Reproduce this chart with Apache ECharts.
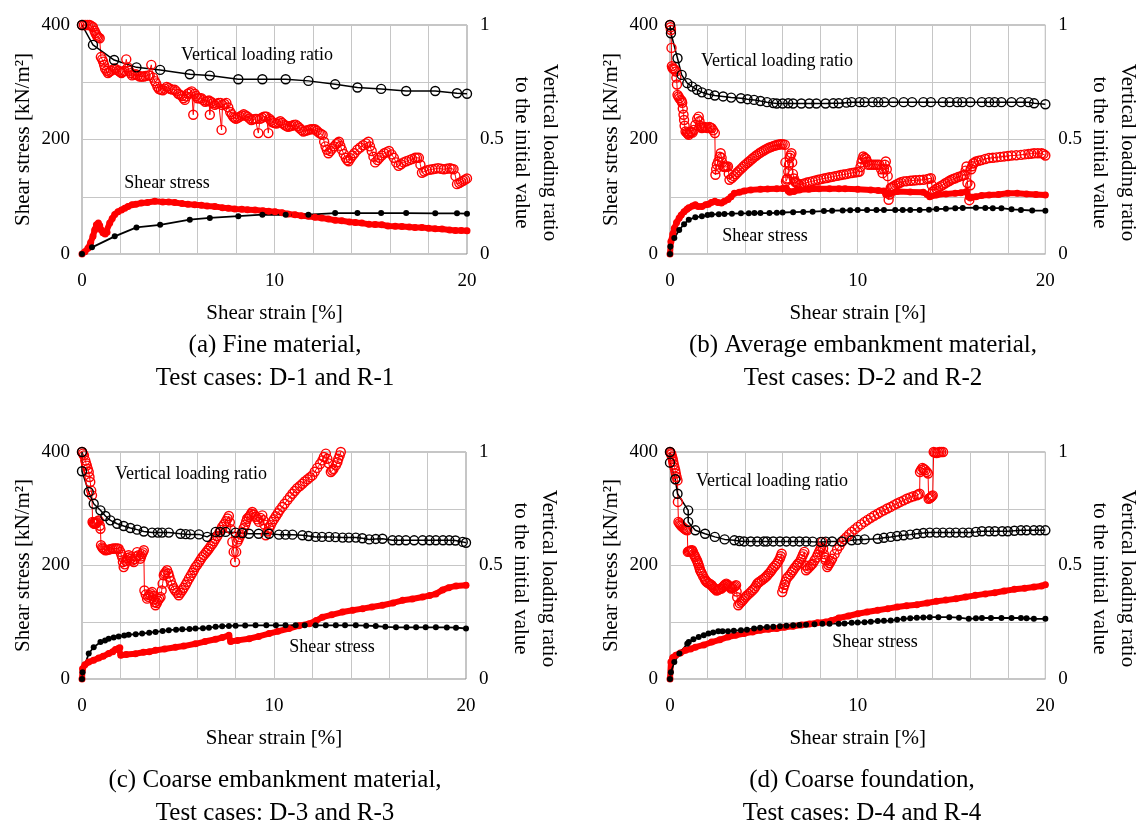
<!DOCTYPE html>
<html>
<head>
    <meta charset="utf-8">
    <title>Shear stress and vertical loading ratio</title>
    <script src="https://cdn.jsdelivr.net/npm/echarts@6.0.0/dist/echarts.min.js"></script>
    <style>
        html, body { margin: 0; padding: 0; background: #fff; }
        #chart { width: 1143px; height: 826px; }
    </style>
</head>
<body>
    <div id="chart"></div>
    <script type="text/javascript">
        // values: [shear strain %, value]
        // black = D cases, red = R cases; ratio on right axis (0-1), stress on left axis (kN/m2)

        // (a) D-1 / R-1
        var blackRatioA = [[0,1.0],[0.57,0.913],[1.67,0.847],[2.83,0.815],[4.06,0.804],[5.6,0.785],[6.64,0.779],[8.12,0.763],[9.37,0.763],[10.58,0.763],[11.76,0.756],[13.15,0.741],[14.31,0.727],[15.54,0.721],[16.84,0.712],[18.35,0.712],[19.48,0.702],[20,0.70]];
        var blackStressA = [[0,0],[0.52,11.6],[1.7,30.8],[2.83,46.5],[4.06,51],[5.6,60],[6.64,63],[8.12,66],[9.37,68.6],[10.58,68.6],[11.76,68.6],[13.15,71.5],[14.31,71.5],[15.54,71.5],[16.84,71.5],[18.35,71],[19.48,71],[20,70.5]];
        var redRatioA = [[0,1.0],[0.1,1.0],[0.2,1.0],[0.3,1.0],[0.4,1.0],[0.5,0.995],[0.57,0.99],[0.65,0.975],[0.7,0.965],[0.75,0.957],[0.8,0.95],[0.86,0.945],[0.92,0.942],[0.98,0.86],[1.05,0.85],[1.1,0.84],[1.15,0.825],[1.2,0.81],[1.28,0.8],[1.35,0.79],[1.42,0.795],[1.5,0.8],[1.6,0.805],[1.7,0.81],[1.8,0.805],[1.9,0.8],[1.97,0.795],[2.05,0.79],[2.12,0.795],[2.2,0.8],[2.3,0.85],[2.38,0.815],[2.45,0.8],[2.52,0.79],[2.6,0.78],[2.7,0.783],[2.8,0.785],[2.9,0.78],[3.0,0.775],[3.1,0.775],[3.2,0.775],[3.3,0.777],[3.45,0.78],[3.52,0.78],[3.6,0.826],[3.7,0.77],[3.78,0.755],[3.85,0.745],[3.92,0.73],[4.0,0.72],[4.1,0.717],[4.2,0.715],[4.3,0.722],[4.4,0.73],[4.5,0.725],[4.6,0.72],[4.7,0.718],[4.82,0.717],[4.9,0.71],[5.0,0.7],[5.1,0.695],[5.2,0.69],[5.27,0.68],[5.34,0.673],[5.42,0.688],[5.5,0.7],[5.6,0.705],[5.7,0.71],[5.78,0.608],[5.85,0.7],[5.92,0.69],[6.0,0.68],[6.1,0.68],[6.2,0.68],[6.3,0.672],[6.4,0.665],[6.5,0.668],[6.6,0.67],[6.64,0.608],[6.7,0.665],[6.8,0.658],[6.9,0.651],[7.0,0.656],[7.1,0.66],[7.2,0.66],[7.25,0.542],[7.3,0.65],[7.4,0.655],[7.5,0.66],[7.6,0.64],[7.7,0.62],[7.78,0.61],[7.85,0.6],[7.92,0.595],[8.0,0.59],[8.1,0.595],[8.2,0.6],[8.3,0.605],[8.4,0.61],[8.5,0.605],[8.6,0.6],[8.7,0.592],[8.8,0.585],[8.9,0.588],[9.0,0.59],[9.08,0.59],[9.16,0.528],[9.25,0.59],[9.35,0.595],[9.45,0.6],[9.52,0.6],[9.59,0.6],[9.68,0.528],[9.75,0.59],[9.82,0.582],[9.9,0.575],[10.0,0.572],[10.1,0.57],[10.2,0.575],[10.3,0.58],[10.4,0.572],[10.5,0.565],[10.6,0.56],[10.7,0.555],[10.8,0.558],[10.9,0.56],[11.0,0.563],[11.1,0.565],[11.2,0.558],[11.3,0.55],[11.4,0.542],[11.5,0.535],[11.6,0.538],[11.7,0.54],[11.8,0.543],[11.9,0.545],[12.0,0.545],[12.1,0.545],[12.2,0.538],[12.3,0.53],[12.4,0.525],[12.5,0.52],[12.58,0.49],[12.65,0.47],[12.72,0.455],[12.8,0.44],[12.9,0.45],[13.0,0.46],[13.1,0.47],[13.2,0.48],[13.28,0.485],[13.35,0.49],[13.42,0.472],[13.5,0.455],[13.6,0.437],[13.7,0.42],[13.78,0.41],[13.85,0.405],[13.95,0.418],[14.05,0.43],[14.15,0.44],[14.3,0.455],[14.45,0.465],[14.6,0.475],[14.75,0.483],[14.88,0.49],[14.96,0.47],[15.05,0.45],[15.14,0.425],[15.23,0.40],[15.35,0.41],[15.45,0.42],[15.57,0.43],[15.7,0.44],[15.82,0.445],[15.95,0.45],[16.08,0.435],[16.2,0.42],[16.32,0.4],[16.44,0.385],[16.57,0.392],[16.7,0.4],[16.85,0.405],[17.0,0.41],[17.15,0.415],[17.3,0.42],[17.4,0.42],[17.5,0.42],[17.58,0.39],[17.66,0.355],[17.78,0.36],[17.9,0.365],[18.05,0.368],[18.2,0.37],[18.35,0.372],[18.5,0.375],[18.65,0.372],[18.8,0.37],[18.95,0.372],[19.1,0.375],[19.2,0.372],[19.3,0.37],[19.4,0.34],[19.48,0.305],[19.6,0.31],[19.7,0.315],[19.8,0.32],[19.9,0.325],[20,0.33]];
        var redStressA = [[0,0],[0.15,4],[0.31,10],[0.45,20],[0.57,31],[0.66,42],[0.75,51],[0.85,54],[0.92,50],[1.0,42],[1.09,37],[1.2,35],[1.3,38],[1.44,54],[1.57,62],[1.7,69],[1.87,74],[2.05,77],[2.22,80],[2.39,83],[2.6,86],[2.8,87],[3.09,89],[3.4,90],[3.78,92],[4.2,91],[4.5,91],[4.82,90],[5.2,88],[5.5,87],[5.86,86],[6.2,85],[6.5,84],[6.9,83],[7.3,81],[7.6,80],[7.94,78.5],[8.3,78],[8.6,77.5],[8.99,77],[9.4,75.5],[9.7,74.5],[10.03,74],[10.4,72],[10.7,70],[11.07,68.6],[11.4,67],[11.76,66],[12.1,64],[12.45,63],[12.8,61],[13.15,59],[13.5,58],[13.9,56],[14.2,55],[14.54,54],[14.9,52],[15.23,51.5],[15.58,51],[15.9,49],[16.27,48.5],[16.62,48],[17,47],[17.3,46.5],[17.66,46.5],[18,45],[18.35,44],[18.7,43.6],[19.1,42],[19.4,41],[19.7,41],[20,40.5]];

        // (b) D-2 / R-2
        var blackRatioB = [[0,1.0],[0.05,0.964],[0.4,0.855],[0.62,0.782],[0.92,0.746],[1.18,0.731],[1.44,0.717],[1.7,0.706],[2.05,0.698],[2.39,0.692],[2.83,0.688],[3.26,0.683],[3.78,0.68],[4.13,0.676],[4.48,0.673],[4.82,0.668],[5.17,0.663],[5.5,0.659],[5.69,0.657],[6.0,0.657],[6.3,0.658],[6.56,0.657],[7.0,0.657],[7.42,0.657],[7.8,0.657],[8.29,0.657],[8.7,0.658],[8.99,0.658],[9.4,0.661],[9.68,0.663],[10.1,0.663],[10.37,0.663],[10.8,0.663],[11.1,0.663],[11.41,0.663],[11.9,0.663],[12.45,0.663],[12.9,0.663],[13.5,0.663],[13.9,0.663],[14.54,0.663],[14.9,0.663],[15.3,0.663],[15.58,0.663],[16.0,0.663],[16.62,0.663],[17.0,0.663],[17.3,0.663],[17.66,0.663],[18.2,0.663],[18.7,0.663],[19.1,0.663],[19.4,0.658],[20,0.654]];
        var blackStressB = [[0,0],[0.02,13],[0.23,28],[0.49,42],[0.75,52],[1.0,60],[1.35,64],[1.7,66],[2.0,68],[2.22,69],[2.6,69.5],[2.9,70],[3.3,70.5],[3.78,71],[4.2,71],[4.5,71.5],[4.82,71.5],[5.3,71.5],[5.69,72],[6.0,72.5],[6.56,73],[7.1,73.5],[7.6,74],[8.2,75],[8.64,75.6],[9.2,76],[9.6,76.5],[10.0,76.7],[10.5,76.7],[11.0,76.7],[11.4,76.7],[12.0,76.7],[12.4,76.7],[12.8,77],[13.3,77],[13.8,77.5],[14.2,78.5],[14.7,79],[15.2,80],[15.6,80.5],[16.3,81],[16.8,80.5],[17.2,80],[17.66,80],[18.2,78],[18.7,77],[19.3,76],[20,75.6]];
        var redRatioB = [[0,1.0],[0.03,0.99],[0.05,0.978],[0.08,0.9],[0.1,0.82],[0.14,0.811],[0.2,0.808],[0.25,0.805],[0.31,0.797],[0.34,0.77],[0.37,0.74],[0.4,0.695],[0.45,0.688],[0.5,0.68],[0.57,0.673],[0.62,0.668],[0.65,0.66],[0.68,0.635],[0.72,0.608],[0.75,0.585],[0.78,0.56],[0.83,0.535],[0.9,0.53],[0.95,0.525],[1.0,0.52],[1.05,0.528],[1.1,0.535],[1.15,0.532],[1.2,0.53],[1.27,0.542],[1.35,0.564],[1.45,0.59],[1.53,0.60],[1.57,0.58],[1.6,0.56],[1.65,0.553],[1.7,0.55],[1.78,0.553],[1.85,0.555],[1.92,0.552],[2.0,0.55],[2.1,0.555],[2.16,0.552],[2.22,0.549],[2.3,0.54],[2.39,0.528],[2.42,0.346],[2.46,0.37],[2.5,0.39],[2.57,0.404],[2.65,0.425],[2.7,0.44],[2.75,0.42],[2.78,0.40],[2.83,0.382],[2.9,0.381],[2.95,0.38],[3.02,0.381],[3.09,0.382],[3.13,0.35],[3.17,0.324],[3.3,0.332],[3.4,0.34],[3.5,0.348],[3.6,0.357],[3.7,0.365],[3.8,0.373],[3.9,0.381],[4.0,0.389],[4.1,0.396],[4.2,0.403],[4.3,0.41],[4.4,0.417],[4.5,0.424],[4.6,0.43],[4.7,0.436],[4.8,0.442],[4.9,0.447],[5.0,0.452],[5.1,0.457],[5.2,0.461],[5.3,0.465],[5.4,0.468],[5.5,0.471],[5.6,0.474],[5.7,0.476],[5.8,0.478],[5.9,0.479],[6.0,0.479],[6.12,0.477],[6.15,0.4],[6.18,0.317],[6.22,0.325],[6.25,0.33],[6.3,0.36],[6.34,0.39],[6.38,0.42],[6.42,0.43],[6.47,0.44],[6.51,0.4],[6.55,0.35],[6.6,0.33],[6.64,0.317],[6.7,0.313],[6.75,0.31],[6.82,0.306],[6.9,0.302],[7.0,0.305],[7.15,0.308],[7.3,0.312],[7.45,0.315],[7.6,0.318],[7.75,0.321],[7.9,0.324],[8.05,0.327],[8.2,0.33],[8.35,0.332],[8.5,0.335],[8.65,0.337],[8.8,0.34],[8.95,0.342],[9.1,0.345],[9.25,0.347],[9.4,0.349],[9.55,0.352],[9.7,0.354],[9.85,0.356],[10.0,0.358],[10.1,0.36],[10.15,0.38],[10.2,0.4],[10.25,0.413],[10.3,0.426],[10.38,0.42],[10.45,0.415],[10.5,0.403],[10.55,0.39],[10.65,0.39],[10.75,0.39],[10.85,0.39],[10.95,0.39],[11.05,0.39],[11.15,0.39],[11.25,0.37],[11.33,0.353],[11.4,0.37],[11.45,0.39],[11.5,0.404],[11.55,0.37],[11.6,0.34],[11.65,0.237],[11.7,0.26],[11.76,0.288],[11.83,0.292],[11.9,0.295],[12.0,0.3],[12.1,0.305],[12.2,0.309],[12.3,0.313],[12.45,0.317],[12.6,0.318],[12.8,0.32],[12.95,0.321],[13.1,0.322],[13.3,0.323],[13.5,0.324],[13.7,0.327],[13.8,0.329],[13.9,0.331],[13.95,0.3],[14.0,0.273],[14.1,0.279],[14.2,0.285],[14.3,0.29],[14.42,0.296],[14.54,0.302],[14.67,0.309],[14.8,0.315],[14.9,0.32],[15.0,0.325],[15.1,0.328],[15.2,0.331],[15.35,0.336],[15.5,0.34],[15.6,0.343],[15.7,0.346],[15.75,0.364],[15.8,0.382],[15.85,0.31],[15.95,0.235],[16.0,0.3],[16.05,0.37],[16.1,0.383],[16.15,0.395],[16.2,0.398],[16.3,0.404],[16.45,0.407],[16.6,0.41],[16.8,0.415],[17.0,0.419],[17.2,0.42],[17.4,0.422],[17.6,0.424],[17.8,0.426],[18.0,0.428],[18.2,0.43],[18.45,0.431],[18.7,0.433],[18.9,0.435],[19.1,0.437],[19.25,0.438],[19.4,0.44],[19.6,0.44],[19.8,0.44],[19.9,0.437],[20,0.43]];
        var redStressB = [[0,0],[0.05,22],[0.15,35],[0.23,45],[0.35,55],[0.49,63],[0.6,68],[0.75,74],[0.9,78],[1.0,81],[1.2,84],[1.35,86],[1.5,83],[1.7,83],[1.9,86],[2.05,87],[2.2,90],[2.39,92],[2.55,90],[2.74,89],[2.9,92],[3.09,95],[3.25,100],[3.43,106],[3.7,108],[3.95,110],[4.3,112],[4.82,113],[5.2,113.5],[5.69,114],[6.0,114.5],[6.2,115],[6.3,110],[6.38,108],[6.6,109],[6.9,112],[7.4,113],[7.94,114],[8.5,114],[9.0,114],[9.33,114],[10.0,113],[10.7,112],[11.1,111],[11.4,110],[11.5,104],[11.7,105],[12.1,109],[12.8,108.5],[13.5,108],[13.7,104],[13.84,100],[14.2,103],[14.7,105],[15.2,106],[15.5,107],[15.8,109],[15.9,100],[16.0,98],[16.3,100],[16.6,102],[17.0,103],[17.5,104],[18.0,106],[18.5,106],[19.0,105],[19.5,104],[20,103]];

        // (c) D-3 / R-3
        var blackRatioC = [[0,1.0],[0,0.915],[0.35,0.824],[0.61,0.772],[0.96,0.743],[1.22,0.718],[1.48,0.699],[1.83,0.684],[2.17,0.674],[2.52,0.665],[2.87,0.658],[3.22,0.65],[3.65,0.645],[3.95,0.645],[4.17,0.645],[4.52,0.645],[5.13,0.64],[5.4,0.638],[5.65,0.637],[6.09,0.637],[6.52,0.626],[6.96,0.648],[7.2,0.648],[7.48,0.648],[8.0,0.645],[8.35,0.643],[8.7,0.64],[9.2,0.64],[9.74,0.64],[10.26,0.636],[10.6,0.636],[10.96,0.636],[11.48,0.633],[11.8,0.63],[12.17,0.626],[12.5,0.626],[12.87,0.626],[13.2,0.625],[13.57,0.623],[13.9,0.623],[14.26,0.623],[14.6,0.62],[14.96,0.615],[15.3,0.617],[15.65,0.618],[16.17,0.611],[16.5,0.611],[16.87,0.611],[17.3,0.611],[17.74,0.611],[18.1,0.611],[18.43,0.611],[18.8,0.611],[19.13,0.611],[19.45,0.61],[19.83,0.604],[20,0.60]];
        var blackStressC = [[0,0],[0.03,12],[0.35,45],[0.61,56],[0.96,65],[1.2,68],[1.39,71],[1.65,73],[1.91,75],[2.2,76.5],[2.43,78],[2.8,79],[3.13,80],[3.5,81.5],[3.83,83],[4.2,84.5],[4.52,86],[4.9,87],[5.22,87.5],[5.6,88],[5.91,89],[6.3,89.5],[6.61,90.5],[6.96,92],[7.3,93],[7.65,93.5],[8.0,94],[8.5,94.3],[9.04,94.6],[9.6,94.6],[10.1,94.6],[10.6,94.6],[11.13,94.6],[11.6,94.6],[12.17,94.6],[12.7,94.6],[13.22,94.6],[13.7,94.6],[14.26,94.6],[14.8,94],[15.3,93.4],[15.8,92],[16.35,91],[16.9,91],[17.4,91],[17.9,91],[18.43,91],[19.0,90.8],[19.48,90.5],[20,89]];
        var redRatioC = [[0,1.0],[0.05,0.993],[0.1,0.985],[0.17,0.963],[0.21,0.95],[0.25,0.94],[0.3,0.925],[0.35,0.912],[0.39,0.89],[0.43,0.868],[0.48,0.83],[0.52,0.809],[0.55,0.692],[0.58,0.688],[0.62,0.685],[0.66,0.684],[0.7,0.684],[0.74,0.687],[0.78,0.69],[0.83,0.695],[0.87,0.699],[0.93,0.675],[0.96,0.662],[0.99,0.589],[1.05,0.58],[1.1,0.575],[1.16,0.571],[1.22,0.567],[1.3,0.568],[1.4,0.57],[1.48,0.572],[1.57,0.574],[1.66,0.575],[1.75,0.575],[1.83,0.575],[1.91,0.574],[2.0,0.56],[2.05,0.548],[2.09,0.537],[2.13,0.515],[2.17,0.493],[2.23,0.505],[2.3,0.52],[2.37,0.533],[2.43,0.545],[2.49,0.537],[2.55,0.53],[2.62,0.522],[2.7,0.515],[2.75,0.528],[2.8,0.54],[2.87,0.559],[2.95,0.545],[3.04,0.53],[3.08,0.54],[3.12,0.55],[3.17,0.558],[3.22,0.567],[3.25,0.39],[3.32,0.372],[3.39,0.354],[3.45,0.362],[3.5,0.37],[3.57,0.377],[3.65,0.383],[3.7,0.367],[3.75,0.35],[3.79,0.338],[3.83,0.325],[3.9,0.335],[3.95,0.345],[4.02,0.353],[4.09,0.361],[4.15,0.39],[4.2,0.42],[4.26,0.457],[4.3,0.464],[4.35,0.47],[4.43,0.479],[4.5,0.465],[4.55,0.45],[4.62,0.432],[4.7,0.413],[4.78,0.4],[4.85,0.39],[4.95,0.38],[5.04,0.369],[5.13,0.38],[5.22,0.391],[5.3,0.402],[5.4,0.415],[5.48,0.428],[5.57,0.442],[5.66,0.455],[5.75,0.468],[5.83,0.48],[5.91,0.493],[6.0,0.503],[6.1,0.515],[6.18,0.526],[6.26,0.537],[6.35,0.546],[6.45,0.556],[6.53,0.565],[6.61,0.574],[6.7,0.585],[6.8,0.596],[6.88,0.607],[6.96,0.618],[7.05,0.63],[7.15,0.645],[7.22,0.657],[7.3,0.67],[7.4,0.682],[7.5,0.695],[7.58,0.707],[7.65,0.718],[7.7,0.69],[7.75,0.66],[7.83,0.604],[7.9,0.56],[7.97,0.515],[8.03,0.56],[8.09,0.604],[8.15,0.615],[8.2,0.625],[8.27,0.636],[8.35,0.648],[8.42,0.664],[8.5,0.68],[8.55,0.693],[8.6,0.706],[8.68,0.713],[8.75,0.72],[8.81,0.728],[8.87,0.736],[8.96,0.725],[9.05,0.715],[9.13,0.703],[9.22,0.692],[9.3,0.71],[9.39,0.721],[9.45,0.7],[9.5,0.68],[9.57,0.633],[9.66,0.65],[9.75,0.665],[9.83,0.678],[9.91,0.692],[10.0,0.704],[10.1,0.717],[10.2,0.73],[10.3,0.744],[10.43,0.758],[10.55,0.772],[10.7,0.788],[10.83,0.802],[10.96,0.816],[11.08,0.828],[11.2,0.84],[11.35,0.85],[11.48,0.86],[11.6,0.87],[11.75,0.88],[11.88,0.889],[12.0,0.897],[12.12,0.913],[12.25,0.93],[12.4,0.947],[12.52,0.963],[12.6,0.978],[12.7,0.993],[12.78,0.97],[12.85,0.95],[12.96,0.912],[13.03,0.918],[13.1,0.925],[13.22,0.941],[13.3,0.955],[13.35,0.97],[13.42,0.985],[13.48,1.0],[13.65,1.02]];
        var redStressC = [[0,0],[0.03,18],[0.15,25],[0.35,30],[0.6,33],[0.87,37],[1.1,40],[1.39,45],[1.6,48],[1.74,52],[1.91,54],[1.97,55],[2.02,42],[2.3,43],[2.78,44.6],[3.2,47],[3.5,48],[3.83,50.5],[4.3,53],[4.87,56],[5.3,58],[5.91,62],[6.4,66],[6.96,70],[7.3,73],[7.65,77],[7.74,66],[8.1,68],[8.7,71],[9.2,75],[9.74,80],[10.2,84],[10.78,89],[11.3,94],[11.83,97.5],[12.2,103],[12.52,109],[13.0,113],[13.57,118],[14.1,121],[14.61,124],[15.1,127],[15.65,130],[16.2,134],[16.7,138.6],[17.2,141],[17.74,144.5],[18.1,147],[18.43,150],[18.78,157],[19.1,161],[19.48,164],[20,165]];

        // (d) D-4 / R-4
        var blackRatioD = [[0,1.0],[0,0.953],[0.28,0.88],[0.4,0.816],[0.97,0.743],[0.97,0.692],[1.35,0.655],[1.87,0.64],[2.39,0.626],[2.91,0.615],[3.43,0.611],[3.7,0.608],[3.95,0.606],[4.3,0.606],[4.65,0.606],[5.0,0.606],[5.17,0.606],[5.5,0.606],[5.86,0.606],[6.2,0.606],[6.56,0.606],[6.9,0.606],[7.25,0.606],[7.6,0.605],[8.03,0.604],[8.3,0.605],[8.64,0.606],[9.16,0.606],[9.68,0.611],[10.0,0.613],[10.37,0.615],[11.07,0.618],[11.4,0.622],[11.76,0.626],[12.1,0.63],[12.45,0.633],[12.8,0.636],[13.15,0.64],[13.5,0.643],[13.84,0.645],[14.2,0.645],[14.54,0.645],[14.9,0.645],[15.23,0.645],[15.6,0.645],[15.92,0.645],[16.3,0.648],[16.62,0.651],[17.0,0.651],[17.31,0.651],[17.7,0.651],[18.0,0.651],[18.35,0.653],[18.7,0.655],[19.0,0.655],[19.39,0.655],[19.7,0.655],[20,0.655]];
        var blackStressD = [[0,0],[0.05,12],[0.23,30],[0.5,45],[0.92,62],[1.0,65],[1.25,70],[1.53,74],[1.8,77],[2.05,80],[2.3,82],[2.57,84],[2.8,84],[3.09,84],[3.4,85],[3.78,86],[4.1,87],[4.48,89],[4.8,90.5],[5.17,91.6],[5.5,92],[5.86,93],[6.2,94],[6.56,94.6],[6.9,95],[7.25,95.7],[7.7,96.5],[8.12,97.5],[8.5,97.5],[8.99,97.5],[9.3,98],[9.68,99],[10.0,99.5],[10.37,100],[10.7,101],[11.07,102],[11.4,102.5],[11.76,103],[12.1,104.5],[12.45,106],[12.8,107],[13.15,108],[13.5,108.5],[13.84,109],[14.3,109],[14.88,109],[15.4,108],[15.92,106],[16.3,107],[16.62,107.5],[17.1,107.5],[17.66,107.5],[18.2,107.5],[18.7,107.5],[19.0,107],[19.39,106],[20,106]];
        var redRatioD = [[0,1.0],[0.04,0.995],[0.07,0.99],[0.1,0.98],[0.14,0.971],[0.17,0.958],[0.2,0.945],[0.24,0.932],[0.28,0.919],[0.31,0.905],[0.35,0.89],[0.4,0.875],[0.42,0.78],[0.45,0.692],[0.5,0.686],[0.55,0.68],[0.6,0.675],[0.66,0.67],[0.73,0.665],[0.8,0.66],[0.86,0.657],[0.92,0.655],[0.95,0.56],[1.0,0.562],[1.05,0.565],[1.12,0.566],[1.18,0.567],[1.22,0.56],[1.27,0.55],[1.31,0.543],[1.35,0.537],[1.4,0.528],[1.45,0.52],[1.49,0.51],[1.53,0.501],[1.57,0.49],[1.6,0.48],[1.65,0.472],[1.7,0.464],[1.77,0.452],[1.85,0.44],[1.9,0.433],[1.96,0.427],[2.03,0.423],[2.1,0.42],[2.16,0.416],[2.22,0.413],[2.28,0.406],[2.35,0.40],[2.42,0.395],[2.48,0.39],[2.55,0.392],[2.6,0.395],[2.67,0.397],[2.74,0.398],[2.8,0.404],[2.87,0.41],[2.93,0.415],[3.0,0.42],[3.07,0.415],[3.13,0.41],[3.2,0.404],[3.26,0.398],[3.33,0.401],[3.4,0.405],[3.46,0.409],[3.52,0.413],[3.55,0.385],[3.58,0.36],[3.64,0.325],[3.72,0.333],[3.8,0.34],[3.88,0.347],[3.95,0.354],[4.02,0.361],[4.1,0.368],[4.2,0.375],[4.3,0.383],[4.4,0.391],[4.5,0.40],[4.58,0.41],[4.65,0.42],[4.72,0.425],[4.8,0.43],[4.9,0.436],[5.0,0.442],[5.08,0.448],[5.17,0.455],[5.25,0.463],[5.34,0.471],[5.42,0.48],[5.5,0.49],[5.6,0.499],[5.69,0.508],[5.77,0.519],[5.85,0.53],[5.9,0.541],[5.95,0.552],[5.98,0.383],[6.04,0.4],[6.1,0.415],[6.15,0.428],[6.21,0.442],[6.3,0.451],[6.4,0.46],[6.48,0.47],[6.56,0.479],[6.65,0.49],[6.75,0.5],[6.82,0.508],[6.9,0.515],[6.98,0.528],[7.05,0.54],[7.1,0.55],[7.16,0.56],[7.22,0.5],[7.25,0.479],[7.35,0.487],[7.45,0.495],[7.52,0.502],[7.6,0.508],[7.7,0.522],[7.8,0.535],[7.87,0.548],[7.94,0.56],[8.0,0.57],[8.05,0.58],[8.12,0.604],[8.16,0.575],[8.2,0.55],[8.25,0.535],[8.29,0.523],[8.38,0.493],[8.44,0.502],[8.5,0.51],[8.57,0.52],[8.64,0.53],[8.77,0.55],[8.9,0.57],[9.03,0.587],[9.16,0.604],[9.28,0.615],[9.4,0.625],[9.54,0.637],[9.68,0.648],[9.84,0.659],[10.0,0.67],[10.18,0.681],[10.37,0.692],[10.53,0.701],[10.7,0.71],[10.88,0.719],[11.07,0.728],[11.23,0.736],[11.4,0.743],[11.58,0.751],[11.76,0.758],[11.93,0.766],[12.1,0.773],[12.27,0.78],[12.45,0.787],[12.62,0.794],[12.8,0.80],[12.97,0.805],[13.15,0.809],[13.22,0.813],[13.3,0.816],[13.32,0.912],[13.38,0.921],[13.45,0.93],[13.52,0.925],[13.6,0.92],[13.68,0.912],[13.75,0.905],[13.78,0.794],[13.84,0.797],[13.9,0.80],[13.95,0.805],[14.0,0.809],[14.05,1.0],[14.12,0.997],[14.2,0.995],[14.28,0.998],[14.36,1.0],[14.45,1.0],[14.55,1.0],[14.62,1.003],[14.7,1.007],[15.06,1.02],[15.5,1.03]];
        var redStressD = [[0,0],[0.05,30],[0.15,38],[0.31,42],[0.55,46],[0.83,50.5],[1.1,53],[1.35,56],[1.8,60],[2.22,65],[2.65,69],[3.09,74],[3.5,77],[3.95,80],[4.4,83],[4.82,86],[5.25,87.5],[5.69,89],[6.1,91],[6.56,93],[7.0,95],[7.42,97],[7.85,99],[8.29,100.4],[8.6,103],[8.99,107.5],[9.5,111],[10.0,115],[10.5,118],[11.07,121],[11.6,124],[12.1,127],[12.6,129],[13.15,131],[13.7,134],[14.2,137],[14.7,139],[15.23,141.5],[15.75,144.5],[16.27,147.4],[16.8,150],[17.3,152],[17.8,155],[18.35,158],[18.9,160],[19.39,162],[19.8,164],[20,166]];

        var strainTicks = [0, 10, 20];
        var stressTicks = [0, 200, 400];
        var ratioTicks = [0, 0.5, 1];

        var captions = [
            ['(a) Fine material,', 'Test cases: D-1 and R-1'],
            ['(b) Average embankment material,', 'Test cases: D-2 and R-2'],
            ['(c) Coarse embankment material,', 'Test cases: D-3 and R-3'],
            ['(d) Coarse foundation,', 'Test cases: D-4 and R-4']
        ];

        var FONT = '"Liberation Serif", "Times New Roman", serif';

        // layout of the four panels (pixels)
        var panels = [
            { box: {left: 82, top: 25, width: 385, height: 229}, data: [redRatioA, redStressA, blackRatioA, blackStressA],
              vlr: [257, 55], ss: [167, 183], cap: [275, 345, 378] },
            { box: {left: 670, top: 25, width: 385, height: 229}, data: [redRatioB, redStressB, blackRatioB, blackStressB],
              vlr: [777, 61], ss: [765, 236], cap: [863, 345, 378] },
            { box: {left: 82, top: 452, width: 384, height: 227}, data: [redRatioC, redStressC, blackRatioC, blackStressC],
              vlr: [191, 474], ss: [332, 647], cap: [275, 780, 813] },
            { box: {left: 670, top: 452, width: 385, height: 227}, data: [redRatioD, redStressD, blackRatioD, blackStressD],
              vlr: [772, 481], ss: [875, 642], cap: [862, 780, 813] }
        ];

        var chart = echarts.init(document.getElementById('chart'), null, {renderer: 'canvas'});

        var grids = [], xAxes = [], yAxes = [], series = [], graphics = [];

        function openCircle(data, color, xi, yi, lineW) {
            return {
                type: 'line', xAxisIndex: xi, yAxisIndex: yi, data: data,
                symbol: 'circle', symbolSize: 9, showAllSymbol: true, clip: true,
                itemStyle: { color: 'rgba(255,255,255,0)', borderColor: color, borderWidth: 1.4 },
                lineStyle: { color: color, width: lineW },
                emphasis: { disabled: true }
            };
        }
        function filledDot(data, color, xi, yi, lineW, size) {
            return {
                type: 'line', xAxisIndex: xi, yAxisIndex: yi, data: data,
                symbol: 'circle', symbolSize: size, showAllSymbol: true, clip: true,
                itemStyle: { color: color },
                lineStyle: { color: color, width: lineW, cap: 'round', join: 'round' },
                emphasis: { disabled: true }
            };
        }

        panels.forEach(function (p, i) {
            grids.push({ left: p.box.left, top: p.box.top, width: p.box.width, height: p.box.height,
                show: true, borderColor: '#8c8c8c', borderWidth: 1, containLabel: false });

            xAxes.push({
                gridIndex: i, type: 'value', min: 0, max: 20, interval: 2,
                axisLine: { show: false }, axisTick: { show: false },
                splitLine: { show: true, lineStyle: { color: '#c6c6c6', width: 1 } },
                axisLabel: { margin: 18, fontFamily: FONT, fontSize: 19, color: '#000',
                    formatter: function (v) { return strainTicks.indexOf(v) >= 0 ? String(v) : ''; } },
                name: 'Shear strain [%]', nameLocation: 'middle', nameGap: 49,
                nameTextStyle: { fontFamily: FONT, fontSize: 21, color: '#000' }
            });

            yAxes.push({
                gridIndex: i, type: 'value', position: 'left', min: 0, max: 400, interval: 100,
                axisLine: { show: false }, axisTick: { show: false },
                splitLine: { show: true, lineStyle: { color: '#c6c6c6', width: 1 } },
                axisLabel: { margin: 12, fontFamily: FONT, fontSize: 19, color: '#000',
                    formatter: function (v) { return stressTicks.indexOf(v) >= 0 ? String(v) : ''; } },
                name: 'Shear stress [kN/m\u00b2]', nameLocation: 'middle', nameGap: 48,
                nameTextStyle: { fontFamily: FONT, fontSize: 21, color: '#000' }
            });
            yAxes.push({
                gridIndex: i, type: 'value', position: 'right', min: 0, max: 1, interval: 0.25,
                axisLine: { show: false }, axisTick: { show: false }, splitLine: { show: false },
                axisLabel: { margin: 13, fontFamily: FONT, fontSize: 19, color: '#000',
                    formatter: function (v) { return ratioTicks.indexOf(v) >= 0 ? String(v) : ''; } },
                name: 'Vertical loading ratio\nto the initial value', nameLocation: 'middle', nameGap: 32, nameRotate: -90,
                nameTextStyle: { fontFamily: FONT, fontSize: 21, color: '#000', lineHeight: 28, padding: [0, 0, 0, 26] }
            });

            var yl = 2 * i, yr = 2 * i + 1;
            series.push(openCircle(p.data[0], '#ff0000', i, yr, 1));
            series.push(filledDot(p.data[1], '#ff0000', i, yl, 6, 7));
            series.push(openCircle(p.data[2], '#000000', i, yr, 1.5));
            series.push(filledDot(p.data[3], '#000000', i, yl, 1.8, 6));

            graphics.push({ type: 'text', x: p.vlr[0], y: p.vlr[1], z: 100,
                style: { text: 'Vertical loading ratio', fontFamily: FONT, fontSize: 18, fill: '#000', align: 'center', verticalAlign: 'middle' } });
            graphics.push({ type: 'text', x: p.ss[0], y: p.ss[1], z: 100,
                style: { text: 'Shear stress', fontFamily: FONT, fontSize: 18, fill: '#000', align: 'center', verticalAlign: 'middle' } });
            graphics.push({ type: 'text', x: p.cap[0], y: p.cap[1],
                style: { text: captions[i][0], fontFamily: FONT, fontSize: 25, fill: '#000', align: 'center', verticalAlign: 'middle' } });
            graphics.push({ type: 'text', x: p.cap[0], y: p.cap[2],
                style: { text: captions[i][1], fontFamily: FONT, fontSize: 25, fill: '#000', align: 'center', verticalAlign: 'middle' } });
        });

        var option = {
            backgroundColor: '#fff',
            animation: false,
            grid: grids,
            xAxis: xAxes,
            yAxis: yAxes,
            series: series,
            graphic: graphics
        };

        chart.setOption(option);
    </script>
</body>
</html>
